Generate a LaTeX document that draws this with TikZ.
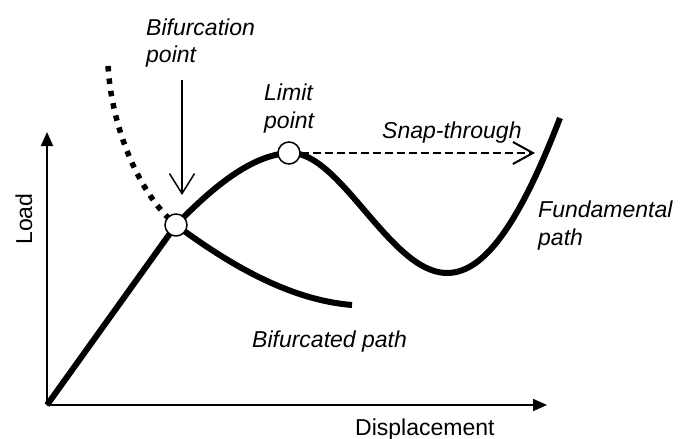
\documentclass[tikz,border=0pt]{standalone}
\usepackage{fontspec}
\setmainfont{Liberation Sans}
\usetikzlibrary{arrows.meta,backgrounds}
\begin{document}
\begin{tikzpicture}[x=1pt,y=-1pt,
  lbl/.style={font=\fontsize{23}{28}\selectfont\itshape, inner sep=0pt, align=left, anchor=base west},
  axlbl/.style={font=\fontsize{23}{28}\selectfont, inner sep=0pt},
  pt/.style={circle, draw, fill=white, line width=1.5pt, minimum size=22pt, inner sep=0pt},
  pathline/.style={line width=6pt},
  axis/.style={line width=2pt, -{Triangle[length=14pt,width=12pt]}},
  pointer/.style={line width=1.5pt, -{Straight Barb[length=20pt,width=25pt,line width=1.5pt]}},
  snap/.style={line width=2pt, dash pattern=on 8pt off 4pt, -{Straight Barb[length=20pt,width=22pt,line width=2pt]}}
]
\useasboundingbox (0,0) rectangle (681,439);
\coordinate (O) at (47,405);
\coordinate (xend) at (547,405);
\coordinate (yend) at (47,132);
\node[pt] (bif) at (176,225) {};
\node[pt] (lim) at (289,153) {};
\coordinate (minp) at (447,273);
\coordinate (fend) at (560,118);
\coordinate (bend) at (352,305);
\coordinate (dstart) at (108,66);
\coordinate (atop) at (182,80);
\coordinate (atip) at (182,195);
\coordinate (stip) at (535,153);
\begin{pgfonlayer}{background}
\draw[axis] (O) -- (xend);
\draw[axis] (O) -- (yend);
\draw[pathline] (O) -- (bif.center);
\draw[pathline] (bif.center) .. controls (210,190) and (250,155) .. (lim.center)
  .. controls (340,150) and (390,273) .. (minp)
  .. controls (480,273) and (515,235) .. (fend);
\draw[pathline] (bif.center) .. controls (230,265) and (290,300) .. (bend);
\draw[line width=5.5pt, dash pattern=on 5.5pt off 7pt] (dstart) .. controls (112,130) and (140,195) .. (bif.center);
\end{pgfonlayer}
\draw[pointer] (atop) -- (atip);
\draw[snap] (lim.east) -- (stip);
\node[lbl] (tbif) at (146,63) {Bifurcation\\point};
\node[lbl] (tlim) at (264,128) {Limit\\point};
\node[lbl] (tsnap) at (382,138) {Snap-through};
\node[lbl] (tfund) at (538,245) {Fundamental\\path};
\node[lbl] (tbifd) at (252,347) {Bifurcated path};
\node[axlbl, anchor=base west] (tdisp) at (355,435) {Displacement};
\node[axlbl, rotate=90, anchor=base] (tload) at (32,219) {Load};
\end{tikzpicture}
\end{document}
